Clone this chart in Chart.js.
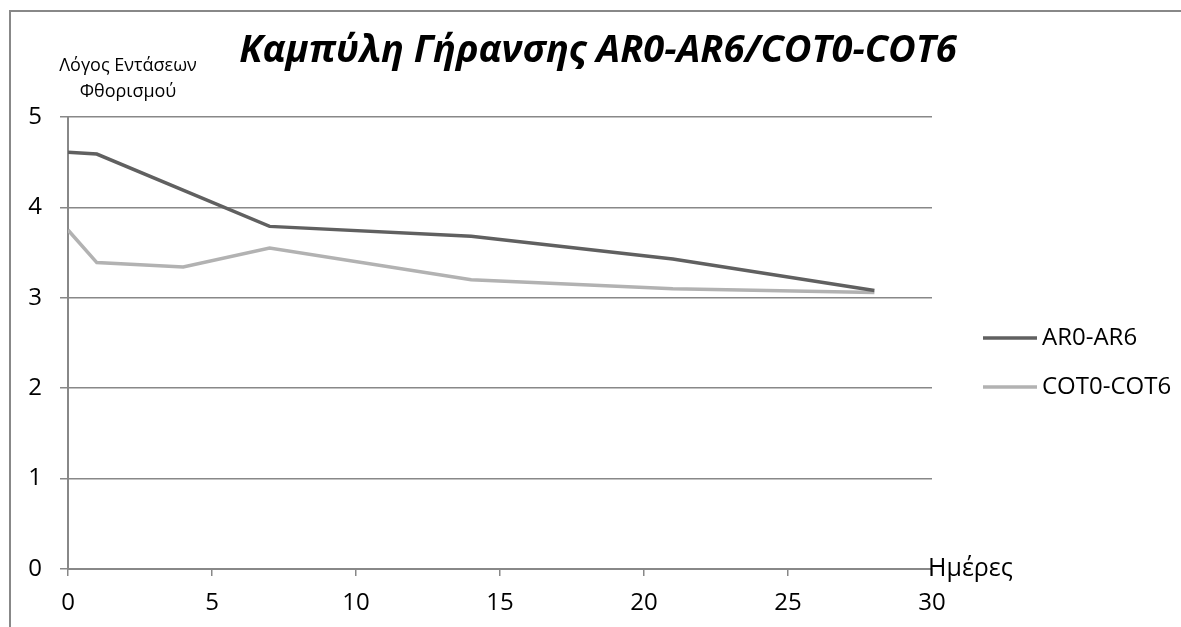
<!DOCTYPE html>
<html>
<head>
<meta charset="utf-8">
<script src="https://cdn.jsdelivr.net/npm/chart.js@4"></script>
<style>
    html, body { margin: 0; padding: 0; background: #ffffff; }
    #wrap { position: absolute; left: 0; top: 0; width: 1181px; height: 627px; }
</style>
</head>
<body>
<div id="wrap"><canvas id="chart"></canvas></div>
<script>
// Data
const days = [0, 1, 4, 7, 14, 21, 28];
const arValues = [4.61, 4.59, null, 3.79, 3.68, 3.43, 3.08];
const cotValues = [3.75, 3.39, 3.34, 3.55, 3.20, 3.10, 3.06];
const seriesNames = ['AR0-AR6', 'COT0-COT6'];
const seriesColors = ['#606060', '#b2b2b2'];
const xTicks = [0, 5, 10, 15, 20, 25, 30];
const yTicks = [0, 1, 2, 3, 4, 5];

const chartTitle = 'Καμπύλη Γήρανσης AR0-AR6/COT0-COT6';
const yTitle = ['Λόγος Εντάσεων', 'Φθορισμού'];
const xTitle = 'Ημέρες';

const FONT = '"Open Sans", "DejaVu Sans", sans-serif';

function toPoints(values) {
    return days.map((d, i) => ({ x: d, y: values[i] })).filter(p => p.y !== null);
}

// Frame, titles and legend drawn on top of the chart
const decorPlugin = {
    id: 'decor',
    afterDraw(chart) {
        const ctx = chart.ctx;
        ctx.save();

        // outer frame (left and top edges only visible)
        ctx.strokeStyle = '#888888';
        ctx.lineWidth = 2;
        ctx.beginPath();
        ctx.moveTo(10, 627);
        ctx.lineTo(10, 11);
        ctx.lineTo(1181, 11);
        ctx.stroke();

        ctx.fillStyle = '#000000';
        ctx.textBaseline = 'middle';

        // main title
        ctx.font = 'italic bold 38px ' + FONT;
        ctx.textAlign = 'center';
        ctx.fillText(chartTitle, 598, 51);

        // y axis title
        ctx.font = '18px ' + FONT;
        ctx.fillText(yTitle[0], 128, 66);
        ctx.fillText(yTitle[1], 128, 92);

        // x axis title
        ctx.font = '25px ' + FONT;
        ctx.textAlign = 'left';
        ctx.fillText(xTitle, 928, chart.scales.y.getPixelForValue(0));

        // legend
        ctx.font = '24px ' + FONT;
        chart.data.datasets.forEach((ds, i) => {
            const y = 338 + i * 49;
            ctx.strokeStyle = ds.borderColor;
            ctx.lineWidth = 3.5;
            ctx.beginPath();
            ctx.moveTo(983, y);
            ctx.lineTo(1037, y);
            ctx.stroke();
            ctx.fillText(ds.label, 1042, y);
        });

        ctx.restore();
    }
};

const ctx = document.getElementById('chart');
new Chart(ctx, {
    type: 'line',
    data: {
        datasets: seriesNames.map((name, i) => ({
            label: name,
            data: toPoints(i === 0 ? arValues : cotValues),
            borderColor: seriesColors[i],
            backgroundColor: seriesColors[i],
            borderWidth: 3.5,
            pointRadius: 0,
            tension: 0,
            fill: false
        }))
    },
    options: {
        responsive: true,
        maintainAspectRatio: false,
        animation: false,
        layout: {
            padding: { left: 0, right: 249, top: 117, bottom: 0 }
        },
        plugins: {
            legend: { display: false },
            tooltip: { enabled: false }
        },
        scales: {
            x: {
                type: 'linear',
                min: 0,
                max: 30,
                afterBuildTicks: s => { s.ticks = xTicks.map(v => ({ value: v })); },
                afterFit: s => { s.height = 58; },
                grid: {
                    drawOnChartArea: false,
                    drawTicks: true,
                    tickLength: 7,
                    color: '#888888',
                    lineWidth: 1.5
                },
                border: { display: true, color: '#888888', width: 2 },
                ticks: {
                    color: '#000000',
                    padding: 13,
                    maxRotation: 0,
                    font: { family: FONT, size: 24 }
                }
            },
            y: {
                min: 0,
                max: 5,
                afterBuildTicks: s => { s.ticks = yTicks.map(v => ({ value: v })); },
                afterFit: s => { s.width = 68; },
                grid: {
                    drawTicks: true,
                    tickLength: 8,
                    color: '#888888',
                    lineWidth: 1.5
                },
                border: { display: true, color: '#888888', width: 2 },
                ticks: {
                    color: '#000000',
                    padding: 18,
                    font: { family: FONT, size: 24 }
                }
            }
        }
    },
    plugins: [decorPlugin]
});
</script>
</body>
</html>
